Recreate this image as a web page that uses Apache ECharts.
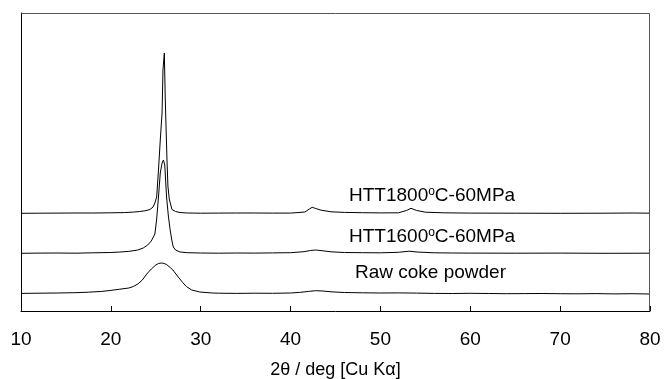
<!DOCTYPE html>
<html>
<head>
<meta charset="utf-8">
<script src="https://cdn.jsdelivr.net/npm/echarts@6/dist/echarts.min.js"></script>
<style>
  html, body { margin: 0; padding: 0; background: #fff; }
  #chart { width: 672px; height: 379px; }
</style>
</head>
<body>
<div id="chart"></div>
<script>
// x axis ticks (2θ, deg)
const xTicks = [10, 20, 30, 40, 50, 60, 70, 80];

// raw coke powder (offset intensity, arb. units)
const rawX = [10, 12, 14, 16, 17.5, 19, 20, 21, 22, 22.5, 23, 23.5, 24, 24.5, 25, 25.3, 25.6, 25.9, 26.2, 26.6, 26.9, 27.5, 28, 28.4, 29, 29.9, 31.3, 32, 34, 36, 38, 40, 41, 42, 42.8, 43.6, 44.5, 46, 48, 50, 52, 54, 56, 58, 60, 62, 64, 66, 68, 70, 72, 74, 76, 78, 80];
const rawY = [17.6, 17.8, 18, 18.3, 18.8, 19.6, 20.6, 21.8, 23, 24.5, 27, 31, 37, 42, 46, 47.5, 48, 47.6, 46.5, 43.5, 41, 34, 28.5, 24.5, 21, 19, 18, 17.8, 17.6, 17.8, 17.7, 18, 18.6, 19.6, 20.3, 20, 19.2, 18.5, 18.2, 18, 18.1, 17.9, 17.6, 17.5, 17.7, 17.5, 17.3, 17.4, 17.5, 17.3, 17.2, 17.4, 17.1, 17.3, 17];

// HTT1600°C-60MPa
const h16X = [10, 12, 14, 16, 18, 20, 21, 22, 23, 23.6, 24.1, 24.5, 24.9, 25.1, 25.3, 25.5, 25.7, 25.85, 26, 26.2, 26.4, 26.6, 26.8, 26.95, 27.2, 27.7, 28.5, 30, 32, 34, 36, 38, 40, 41.5, 42.2, 42.8, 43.5, 44.5, 46, 48, 50, 52, 53.2, 54.2, 56, 58, 60, 65, 70, 75, 80];
const h16Y = [57.7, 57.9, 58, 57.8, 58.2, 58.5, 59, 59.6, 61, 63, 66, 70, 77, 92, 114, 138, 148, 151, 146, 114, 95, 81, 70, 64, 61, 59, 58.3, 58, 57.8, 58, 57.9, 58.1, 58.3, 59.3, 60.5, 61, 60.3, 59.2, 58.5, 58.3, 58.2, 58.7, 59.8, 58.9, 58.2, 58, 57.9, 57.8, 57.9, 57.7, 57.8];

// HTT1800°C-60MPa
const h18X = [10, 12, 14, 16, 18, 20, 21.5, 22.5, 23.2, 23.8, 24.35, 24.7, 24.9, 25.1, 25.3, 25.5, 25.7, 25.8, 25.95, 26.05, 26.15, 26.25, 26.35, 26.5, 26.8, 27.2, 27.7, 28.5, 30, 32, 34, 36, 38, 40, 41.6, 42.1, 42.4, 42.8, 43.4, 44.5, 46, 48, 50, 52, 52.9, 53.4, 54, 55, 57, 60, 65, 70, 75, 78, 80];
const h18Y = [97.7, 97.8, 97.9, 98, 98, 98.2, 98.4, 98.9, 99.5, 100.2, 101.5, 104, 108, 114, 141, 171, 198, 241, 258, 214, 181, 150, 125, 112, 101.5, 99.5, 98.5, 98, 97.8, 97.9, 98, 98, 97.9, 97.9, 99, 102, 103.7, 102.5, 100.8, 99.2, 98.6, 98.3, 98.1, 98.2, 100.5, 102.7, 100.6, 98.8, 98.2, 97.9, 97.8, 97.7, 97.8, 98, 97.8];

const yMax = 298;
const xMin = xTicks[0];
const xMax = xTicks[xTicks.length - 1];

const pairs = (xs, ys) => xs.map((x, i) => [x, ys[i]]);

const chart = echarts.init(document.getElementById('chart'));
const font = 'Liberation Sans, Arial, sans-serif';

const lineSeries = (name, xs, ys) => ({
  name: name,
  type: 'line',
  data: pairs(xs, ys),
  showSymbol: false,
  smooth: false,
  lineStyle: { color: '#000', width: 1 },
  animation: false
});

const rich = {
  a: { fontSize: 19, fontFamily: font, color: '#000', lineHeight: 20 },
  s: { fontSize: 12, fontFamily: font, color: '#000', lineHeight: 8, verticalAlign: 'top' }
};

chart.setOption({
  animation: false,
  grid: {
    left: 21, right: 22, top: 13, bottom: 68,
    outerBoundsMode: 'none'
  },
  xAxis: {
    type: 'value',
    min: xMin,
    max: xMax,
    interval: 10,
    name: '2θ / deg [Cu Kα]',
    nameLocation: 'middle',
    nameGap: 50,
    nameTextStyle: { fontSize: 18, fontFamily: font, color: '#000' },
    axisLine: { onZero: false, lineStyle: { color: '#000', width: 1 } },
    axisTick: { inside: true, length: 5, lineStyle: { color: '#000' } },
    axisLabel: { fontSize: 19, fontFamily: font, color: '#000', margin: 19 },
    splitLine: { show: false }
  },
  yAxis: {
    type: 'value',
    min: 0,
    max: yMax,
    axisLine: { show: true, onZero: false, lineStyle: { color: '#000', width: 1 } },
    axisTick: { show: false },
    axisLabel: { show: false },
    splitLine: { show: false }
  },
  series: [
    lineSeries('Raw coke powder', rawX, rawY),
    lineSeries('HTT1600°C-60MPa', h16X, h16Y),
    lineSeries('HTT1800°C-60MPa', h18X, h18Y)
  ]
});

// grey top/right frame and curve labels, placed after the grid is laid out
const tl = chart.convertToPixel({ xAxisIndex: 0, yAxisIndex: 0 }, [xMin, yMax]);
const br = chart.convertToPixel({ xAxisIndex: 0, yAxisIndex: 0 }, [xMax, 0]);
const x0 = Math.round(tl[0]) + 0.5, y0 = Math.round(tl[1]) + 0.5;
const x1 = Math.round(br[0]) - 0.5, y1 = Math.round(br[1]);

chart.setOption({
  graphic: {
    elements: [
      {
        id: 'frameTop', type: 'line', silent: true, z: 100,
        shape: { x1: x0, y1: y0, x2: x1, y2: y0 },
        style: { stroke: '#555', lineWidth: 1 }
      },
      {
        id: 'frameRight', type: 'line', silent: true, z: 100,
        shape: { x1: x1, y1: y0, x2: x1, y2: y1 },
        style: { stroke: '#555', lineWidth: 1 }
      },
      { id: 'lab1800', type: 'text', left: 349, top: 186, style: { text: '{a|HTT1800}{s|o}{a|C-60MPa}', rich: rich } },
      { id: 'lab1600', type: 'text', left: 349, top: 227, style: { text: '{a|HTT1600}{s|o}{a|C-60MPa}', rich: rich } },
      { id: 'labRaw', type: 'text', left: 355, top: 263, style: { text: '{a|Raw coke powder}', rich: rich } }
    ]
  }
});
</script>
</body>
</html>
